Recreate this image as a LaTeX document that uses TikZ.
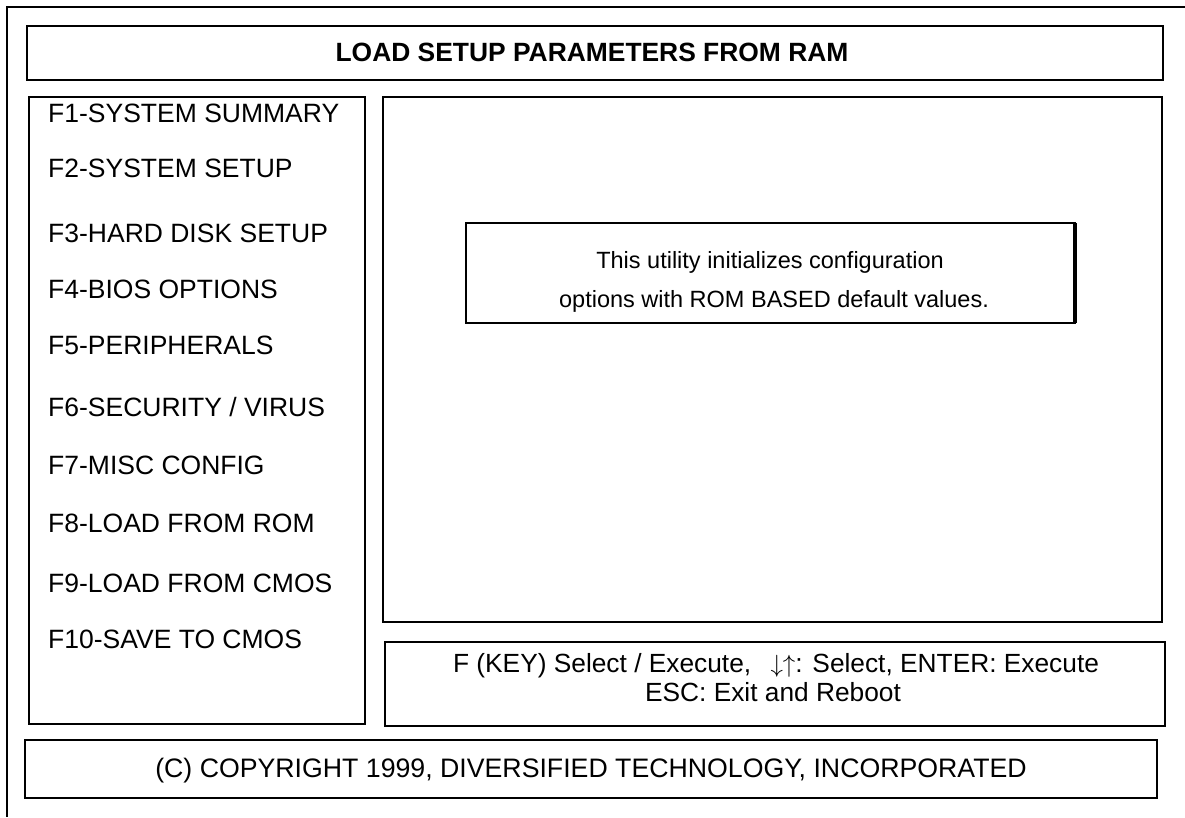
\documentclass[tikz,border=0pt]{standalone}
\usepackage{fontspec}
\setmainfont{Liberation Sans}
\usepackage{tikz}
\usetikzlibrary{positioning,calc}
\newcommand{\menusize}{\fontsize{26.5}{30}\selectfont}
\newcommand{\helpsize}{\fontsize{26.3}{30}\selectfont}
\newcommand{\titlesize}{\fontsize{26.4}{30}\selectfont\bfseries}
\newcommand{\msgsize}{\fontsize{23.5}{28}\selectfont}
\newcommand{\copysize}{\fontsize{26.7}{30}\selectfont}
\tikzset{
  panel/.style    = {draw, line width=2pt, inner sep=0pt, outer sep=0pt},
  frame/.style    = {line width=2pt},
  menuitem/.style = {anchor=base west, inner sep=0pt, font=\menusize},
  txtline/.style  = {anchor=base, inner sep=0pt}
}

\begin{document}
\begin{tikzpicture}[x=1pt, y=-1pt]  % one unit = one pixel of the screen shot, y runs down
  \useasboundingbox (0,0) rectangle (1185,817);

  %  --  Outer screen frame: only its top and left edges are in view
  \coordinate (frtr) at (1185,7);
  \coordinate (frtl) at (7,7);
  \coordinate (frbl) at (7,817);
  \draw[frame] (frtr) -- (frtl) -- (frbl);

  %  --  Title bar
  \node[panel, minimum width=1136, minimum height=54] (title) at (595,53) {};
  \node[txtline, font=\titlesize] (titletxt) at (592,61) {LOAD SETUP PARAMETERS FROM RAM};

  %  --  Function key menu on the left
  \node[panel, minimum width=336, minimum height=627] (menu) at (197,410.5) {};
  \foreach \k/\yy/\txt in {1/122/{SYSTEM SUMMARY}, 2/177/{SYSTEM SETUP},
      3/242/{HARD DISK SETUP}, 4/298/{BIOS OPTIONS}, 5/354/{PERIPHERALS},
      6/416/{SECURITY / VIRUS}, 7/474/{MISC CONFIG}, 8/532/{LOAD FROM ROM},
      9/592/{LOAD FROM CMOS}, 10/648/{SAVE TO CMOS}}{
    \node[menuitem] (key\k) at (48,\yy) {F\k-\txt};
  }

  %  --  Work area with the message window
  \node[panel, minimum width=779, minimum height=525] (work) at (772.5,359.5) {};
  \node[panel, minimum width=609, minimum height=100] (msg) at (770.5,273) {};
  \draw[line width=4pt] (msg.north east) -- (msg.south east); % heavier right edge
  \node[txtline, font=\msgsize] (msg1) at (770,268) {This utility initializes configuration};
  \node[txtline, font=\msgsize] (msg2) at (774,307) {options with ROM BASED default values.};

  %  --  Key help
  \node[panel, minimum width=780, minimum height=84] (help) at (775,684) {};
  \node[txtline, font=\helpsize] (help1) at (776,672) {F (KEY) Select / Execute,\hspace{12pt} $\downarrow\uparrow$: Select, ENTER: Execute};
  \node[txtline, font=\helpsize] (help2) at (773,701) {ESC: Exit and Reboot};

  %  --  Copyright line
  \node[panel, minimum width=1132, minimum height=58] (copy) at (591,769) {};
  \node[txtline, font=\copysize] (copytxt) at (591,777) {(C) COPYRIGHT 1999, DIVERSIFIED TECHNOLOGY, INCORPORATED};
\end{tikzpicture}
\end{document}
